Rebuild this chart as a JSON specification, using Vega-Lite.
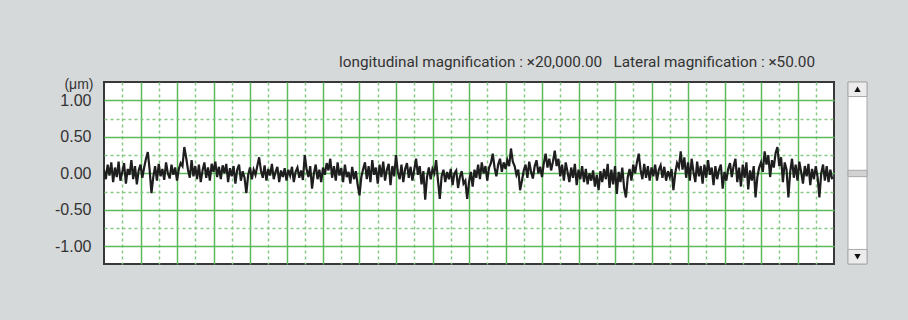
{
  "$schema": "https://vega.github.io/schema/vega-lite/v6.json",
  "background": "#d6d9da",
  "padding": {"left": 53, "top": 54, "right": 45, "bottom": 60},
  "spacing": 12,
  "config": {"font": "Liberation Sans", "view": {"stroke": null}},
  "hconcat": [
    {
      "width": 730,
      "height": 182,
      "view": {"fill": "#ffffff", "stroke": "#383838", "strokeWidth": 2},
      "title": {
        "text": "longitudinal magnification : ×20,000.00\u00a0\u00a0\u00a0Lateral magnification : ×50.00",
        "anchor": "end",
        "dx": -19,
        "offset": 6.5,
        "fontSize": 15.3,
        "font": "Roboto",
        "fontWeight": "normal",
        "color": "#333333"
      },
      "data": {"values": [
{"i":0,"y":0.05},{"i":1,"y":-0.08},{"i":2,"y":0.12},{"i":3,"y":-0.03},{"i":4,"y":0.15},{"i":5,"y":-0.12},{"i":6,"y":0.08},{"i":7,"y":-0.05},{"i":8,"y":0.16},{"i":9,"y":-0.1},
{"i":10,"y":0.02},{"i":11,"y":0.14},{"i":12,"y":-0.14},{"i":13,"y":0.06},{"i":14,"y":-0.02},{"i":15,"y":0.18},{"i":16,"y":-0.08},{"i":17,"y":0.1},{"i":18,"y":-0.15},{"i":19,"y":0.04},
{"i":20,"y":0.12},{"i":21,"y":-0.06},{"i":22,"y":0.08},{"i":23,"y":0.2},{"i":24,"y":0.29},{"i":25,"y":0.05},{"i":26,"y":-0.27},{"i":27,"y":-0.05},{"i":28,"y":0.1},{"i":29,"y":-0.1},
{"i":30,"y":0.13},{"i":31,"y":-0.04},{"i":32,"y":0.06},{"i":33,"y":-0.09},{"i":34,"y":0.15},{"i":35,"y":0},{"i":36,"y":-0.07},{"i":37,"y":0.12},{"i":38,"y":-0.02},{"i":39,"y":0.08},
{"i":40,"y":-0.1},{"i":41,"y":0.06},{"i":42,"y":0.14},{"i":43,"y":0.1},{"i":44,"y":0.36},{"i":45,"y":0.22},{"i":46,"y":0.05},{"i":47,"y":-0.06},{"i":48,"y":0.18},{"i":49,"y":-0.04},
{"i":50,"y":0.1},{"i":51,"y":-0.08},{"i":52,"y":0.12},{"i":53,"y":-0.12},{"i":54,"y":0.04},{"i":55,"y":0.15},{"i":56,"y":-0.06},{"i":57,"y":0.08},{"i":58,"y":-0.1},{"i":59,"y":0.13},
{"i":60,"y":0.02},{"i":61,"y":0.16},{"i":62,"y":-0.05},{"i":63,"y":0.09},{"i":64,"y":-0.08},{"i":65,"y":0.11},{"i":66,"y":0},{"i":67,"y":0.13},{"i":68,"y":-0.12},{"i":69,"y":0.07},
{"i":70,"y":-0.04},{"i":71,"y":0.1},{"i":72,"y":-0.14},{"i":73,"y":0.05},{"i":74,"y":0.12},{"i":75,"y":-0.1},{"i":76,"y":0.03},{"i":77,"y":-0.06},{"i":78,"y":-0.27},{"i":79,"y":-0.02},
{"i":80,"y":0.08},{"i":81,"y":-0.08},{"i":82,"y":0.05},{"i":83,"y":-0.02},{"i":84,"y":0.1},{"i":85,"y":0.22},{"i":86,"y":0.04},{"i":87,"y":-0.06},{"i":88,"y":0.11},{"i":89,"y":-0.1},
{"i":90,"y":0.06},{"i":91,"y":-0.03},{"i":92,"y":0.13},{"i":93,"y":-0.08},{"i":94,"y":0.02},{"i":95,"y":0.09},{"i":96,"y":-0.12},{"i":97,"y":0.04},{"i":98,"y":-0.05},{"i":99,"y":0.07},
{"i":100,"y":-0.1},{"i":101,"y":0.05},{"i":102,"y":-0.03},{"i":103,"y":0.09},{"i":104,"y":-0.12},{"i":105,"y":0.02},{"i":106,"y":0.08},{"i":107,"y":-0.06},{"i":108,"y":0.04},{"i":109,"y":-0.09},
{"i":110,"y":0.25},{"i":111,"y":0.06},{"i":112,"y":-0.05},{"i":113,"y":0.1},{"i":114,"y":-0.21},{"i":115,"y":0},{"i":116,"y":0.12},{"i":117,"y":-0.08},{"i":118,"y":0.05},{"i":119,"y":-0.12},
{"i":120,"y":0.08},{"i":121,"y":-0.02},{"i":122,"y":0.14},{"i":123,"y":0.04},{"i":124,"y":0.2},{"i":125,"y":-0.06},{"i":126,"y":0.1},{"i":127,"y":-0.1},{"i":128,"y":0.15},{"i":129,"y":-0.03},
{"i":130,"y":0.07},{"i":131,"y":-0.12},{"i":132,"y":0.12},{"i":133,"y":-0.05},{"i":134,"y":0.02},{"i":135,"y":-0.14},{"i":136,"y":0.09},{"i":137,"y":-0.08},{"i":138,"y":0.03},{"i":139,"y":-0.16},
{"i":140,"y":-0.3},{"i":141,"y":-0.05},{"i":142,"y":0.06},{"i":143,"y":0.15},{"i":144,"y":-0.08},{"i":145,"y":0.1},{"i":146,"y":-0.12},{"i":147,"y":0.18},{"i":148,"y":-0.02},{"i":149,"y":0.08},
{"i":150,"y":-0.14},{"i":151,"y":0.12},{"i":152,"y":-0.05},{"i":153,"y":0.16},{"i":154,"y":-0.1},{"i":155,"y":0.05},{"i":156,"y":0.13},{"i":157,"y":-0.16},{"i":158,"y":0.1},{"i":159,"y":-0.04},
{"i":160,"y":0.25},{"i":161,"y":0.02},{"i":162,"y":-0.08},{"i":163,"y":0.12},{"i":164,"y":-0.12},{"i":165,"y":0.06},{"i":166,"y":0.14},{"i":167,"y":-0.06},{"i":168,"y":0.09},{"i":169,"y":-0.1},
{"i":170,"y":0.05},{"i":171,"y":0.2},{"i":172,"y":-0.02},{"i":173,"y":0.1},{"i":174,"y":-0.15},{"i":175,"y":0.03},{"i":176,"y":-0.36},{"i":177,"y":-0.05},{"i":178,"y":0.08},{"i":179,"y":-0.08},
{"i":180,"y":0.06},{"i":181,"y":0},{"i":182,"y":0.18},{"i":183,"y":-0.1},{"i":184,"y":-0.35},{"i":185,"y":-0.04},{"i":186,"y":0.05},{"i":187,"y":-0.12},{"i":188,"y":0.02},{"i":189,"y":-0.08},
{"i":190,"y":0.06},{"i":191,"y":-0.16},{"i":192,"y":0},{"i":193,"y":0.04},{"i":194,"y":-0.2},{"i":195,"y":-0.05},{"i":196,"y":0.03},{"i":197,"y":-0.14},{"i":198,"y":-0.1},{"i":199,"y":-0.35},
{"i":200,"y":-0.12},{"i":201,"y":0.02},{"i":202,"y":-0.18},{"i":203,"y":0.05},{"i":204,"y":-0.06},{"i":205,"y":0.12},{"i":206,"y":-0.08},{"i":207,"y":0.15},{"i":208,"y":0},{"i":209,"y":0.1},
{"i":210,"y":-0.1},{"i":211,"y":0.08},{"i":212,"y":0.14},{"i":213,"y":0.27},{"i":214,"y":0.08},{"i":215,"y":-0.04},{"i":216,"y":0.12},{"i":217,"y":0.2},{"i":218,"y":0.02},{"i":219,"y":0.15},
{"i":220,"y":0.06},{"i":221,"y":0.18},{"i":222,"y":0.1},{"i":223,"y":0.34},{"i":224,"y":0.16},{"i":225,"y":0.1},{"i":226,"y":-0.02},{"i":227,"y":0.05},{"i":228,"y":-0.23},{"i":229,"y":-0.1},
{"i":230,"y":0.04},{"i":231,"y":0.12},{"i":232,"y":-0.06},{"i":233,"y":0.16},{"i":234,"y":0.02},{"i":235,"y":-0.07},{"i":236,"y":0.1},{"i":237,"y":0.18},{"i":238,"y":0},{"i":239,"y":0.09},
{"i":240,"y":-0.05},{"i":241,"y":0.14},{"i":242,"y":0.27},{"i":243,"y":0.08},{"i":244,"y":0.2},{"i":245,"y":0.04},{"i":246,"y":0.16},{"i":247,"y":0.31},{"i":248,"y":0.1},{"i":249,"y":0.2},
{"i":250,"y":-0.04},{"i":251,"y":0.12},{"i":252,"y":-0.1},{"i":253,"y":0.15},{"i":254,"y":0.02},{"i":255,"y":-0.12},{"i":256,"y":0.08},{"i":257,"y":-0.06},{"i":258,"y":0.13},{"i":259,"y":-0.16},
{"i":260,"y":0.05},{"i":261,"y":-0.08},{"i":262,"y":0.1},{"i":263,"y":-0.12},{"i":264,"y":0.06},{"i":265,"y":-0.15},{"i":266,"y":0},{"i":267,"y":-0.1},{"i":268,"y":0.04},{"i":269,"y":-0.18},
{"i":270,"y":-0.02},{"i":271,"y":-0.23},{"i":272,"y":0.03},{"i":273,"y":-0.12},{"i":274,"y":0.06},{"i":275,"y":-0.08},{"i":276,"y":0.13},{"i":277,"y":-0.2},{"i":278,"y":0.05},{"i":279,"y":-0.15},
{"i":280,"y":0.1},{"i":281,"y":-0.28},{"i":282,"y":0.02},{"i":283,"y":-0.12},{"i":284,"y":0.08},{"i":285,"y":-0.2},{"i":286,"y":-0.33},{"i":287,"y":-0.05},{"i":288,"y":0.06},{"i":289,"y":-0.1},
{"i":290,"y":0.12},{"i":291,"y":0},{"i":292,"y":0.15},{"i":293,"y":0.27},{"i":294,"y":0.05},{"i":295,"y":-0.08},{"i":296,"y":0.13},{"i":297,"y":-0.06},{"i":298,"y":0.1},{"i":299,"y":-0.1},
{"i":300,"y":0.08},{"i":301,"y":-0.04},{"i":302,"y":0.12},{"i":303,"y":-0.1},{"i":304,"y":0.05},{"i":305,"y":0.11},{"i":306,"y":-0.06},{"i":307,"y":0.09},{"i":308,"y":-0.1},{"i":309,"y":0.03},
{"i":310,"y":-0.05},{"i":311,"y":0.06},{"i":312,"y":-0.23},{"i":313,"y":0},{"i":314,"y":0.14},{"i":315,"y":0.08},{"i":316,"y":0.3},{"i":317,"y":0.05},{"i":318,"y":0.22},{"i":319,"y":-0.06},
{"i":320,"y":0.15},{"i":321,"y":-0.1},{"i":322,"y":0.2},{"i":323,"y":0.02},{"i":324,"y":-0.12},{"i":325,"y":0.16},{"i":326,"y":-0.04},{"i":327,"y":0.1},{"i":328,"y":-0.14},{"i":329,"y":0.12},
{"i":330,"y":-0.06},{"i":331,"y":0.18},{"i":332,"y":-0.02},{"i":333,"y":0.08},{"i":334,"y":-0.16},{"i":335,"y":0.1},{"i":336,"y":-0.08},{"i":337,"y":0.05},{"i":338,"y":0.12},{"i":339,"y":-0.21},
{"i":340,"y":0.02},{"i":341,"y":-0.1},{"i":342,"y":0.06},{"i":343,"y":0.14},{"i":344,"y":-0.05},{"i":345,"y":0.1},{"i":346,"y":0.2},{"i":347,"y":-0.12},{"i":348,"y":0.08},{"i":349,"y":-0.18},
{"i":350,"y":0.12},{"i":351,"y":-0.06},{"i":352,"y":0.15},{"i":353,"y":-0.22},{"i":354,"y":0.04},{"i":355,"y":-0.1},{"i":356,"y":0.1},{"i":357,"y":-0.33},{"i":358,"y":-0.05},{"i":359,"y":0.08},
{"i":360,"y":0.15},{"i":361,"y":0.02},{"i":362,"y":0.3},{"i":363,"y":0.12},{"i":364,"y":0.25},{"i":365,"y":-0.05},{"i":366,"y":0.18},{"i":367,"y":0.08},{"i":368,"y":0.28},{"i":369,"y":0.36},
{"i":370,"y":0.1},{"i":371,"y":0.22},{"i":372,"y":-0.12},{"i":373,"y":0.15},{"i":374,"y":0.05},{"i":375,"y":-0.33},{"i":376,"y":0.02},{"i":377,"y":0.2},{"i":378,"y":-0.06},{"i":379,"y":0.12},
{"i":380,"y":-0.1},{"i":381,"y":0.16},{"i":382,"y":0.02},{"i":383,"y":-0.14},{"i":384,"y":0.1},{"i":385,"y":-0.04},{"i":386,"y":0.13},{"i":387,"y":-0.16},{"i":388,"y":0.06},{"i":389,"y":-0.08},
{"i":390,"y":0.1},{"i":391,"y":-0.05},{"i":392,"y":-0.33},{"i":393,"y":0},{"i":394,"y":0.12},{"i":395,"y":-0.1},{"i":396,"y":0.1},{"i":397,"y":-0.12},{"i":398,"y":0.05},{"i":399,"y":-0.08}
      ]},
      "mark": {"type": "line", "color": "#1e1e1e", "strokeWidth": 2.2, "clip": true},
      "encoding": {
        "x": {
          "field": "i", "type": "quantitative",
          "scale": {"domain": [0, 400], "nice": false, "zero": false},
          "axis": {
            "values": [10,20,30,40,50,60,70,80,90,100,110,120,130,140,150,160,170,180,190,200,210,220,230,240,250,260,270,280,290,300,310,320,330,340,350,360,370,380,390],
            "labels": false, "ticks": false, "domain": false, "title": null,
            "grid": true, "gridWidth": 1.5,
            "gridColor": {"condition": {"test": "datum.value % 20 != 0", "value": "#86c986"}, "value": "#5cba5c"},
            "gridDash": {"condition": {"test": "datum.value % 20 != 0", "value": [3, 3]}, "value": []}
          }
        },
        "y": {
          "field": "y", "type": "quantitative",
          "scale": {"domain": [-1.24, 1.25], "nice": false, "zero": false},
          "axis": {
            "values": [-1, -0.75, -0.5, -0.25, 0, 0.25, 0.5, 0.75, 1],
            "labelExpr": "abs(datum.value) % 0.5 < 0.01 ? (datum.value < 0 ? '-' : '') + format(abs(datum.value), '.2f') : ''",
            "labelOverlap": false,
            "labelFontSize": 16, "labelColor": "#333333", "labelPadding": 13,
            "ticks": false, "tickSize": 0, "domain": false,
            "title": "(μm)", "titleAngle": 0, "titleAlign": "right", "titleBaseline": "middle",
            "titleX": -11, "titleY": 2, "titleFontSize": 14, "titleFontWeight": "normal", "titleColor": "#333333",
            "grid": true, "gridWidth": 1.5,
            "gridColor": {"condition": {"test": "abs(datum.value) % 0.5 > 0.01", "value": "#86c986"}, "value": "#5cba5c"},
            "gridDash": {"condition": {"test": "abs(datum.value) % 0.5 > 0.01", "value": [3, 3]}, "value": []}
          }
        }
      }
    },
    {
      "width": 19,
      "height": 182,
      "view": {"stroke": null},
      "data": {"values": [
        {"part": "track", "from": 0, "to": 100},
        {"part": "up", "from": 0, "to": 8},
        {"part": "down", "from": 92, "to": 100},
        {"part": "thumb", "from": 48.5, "to": 52}
      ]},
      "layer": [
        {
          "mark": {"type": "rect", "stroke": "#a8a8a8", "strokeWidth": 1},
          "encoding": {
            "x": {"datum": 0, "type": "quantitative", "scale": {"domain": [0, 1], "nice": false}, "axis": null},
            "x2": {"datum": 1},
            "y": {"field": "from", "type": "quantitative", "scale": {"domain": [0, 100], "reverse": true, "nice": false}, "axis": null},
            "y2": {"field": "to"},
            "color": {"field": "part", "type": "nominal", "scale": {"domain": ["track", "up", "down", "thumb"], "range": ["#ffffff", "#ececec", "#ececec", "#d2d2d2"]}, "legend": null}
          }
        },
        {
          "data": {"values": [{"arrow": "up", "pos": 4}, {"arrow": "down", "pos": 96}]},
          "mark": {"type": "point", "filled": true, "color": "#111111", "size": 40, "opacity": 1},
          "encoding": {
            "x": {"datum": 0.5, "type": "quantitative"},
            "y": {"field": "pos", "type": "quantitative"},
            "shape": {"field": "arrow", "type": "nominal", "scale": {"domain": ["up", "down"], "range": ["triangle-up", "triangle-down"]}, "legend": null}
          }
        }
      ]
    }
  ]
}
